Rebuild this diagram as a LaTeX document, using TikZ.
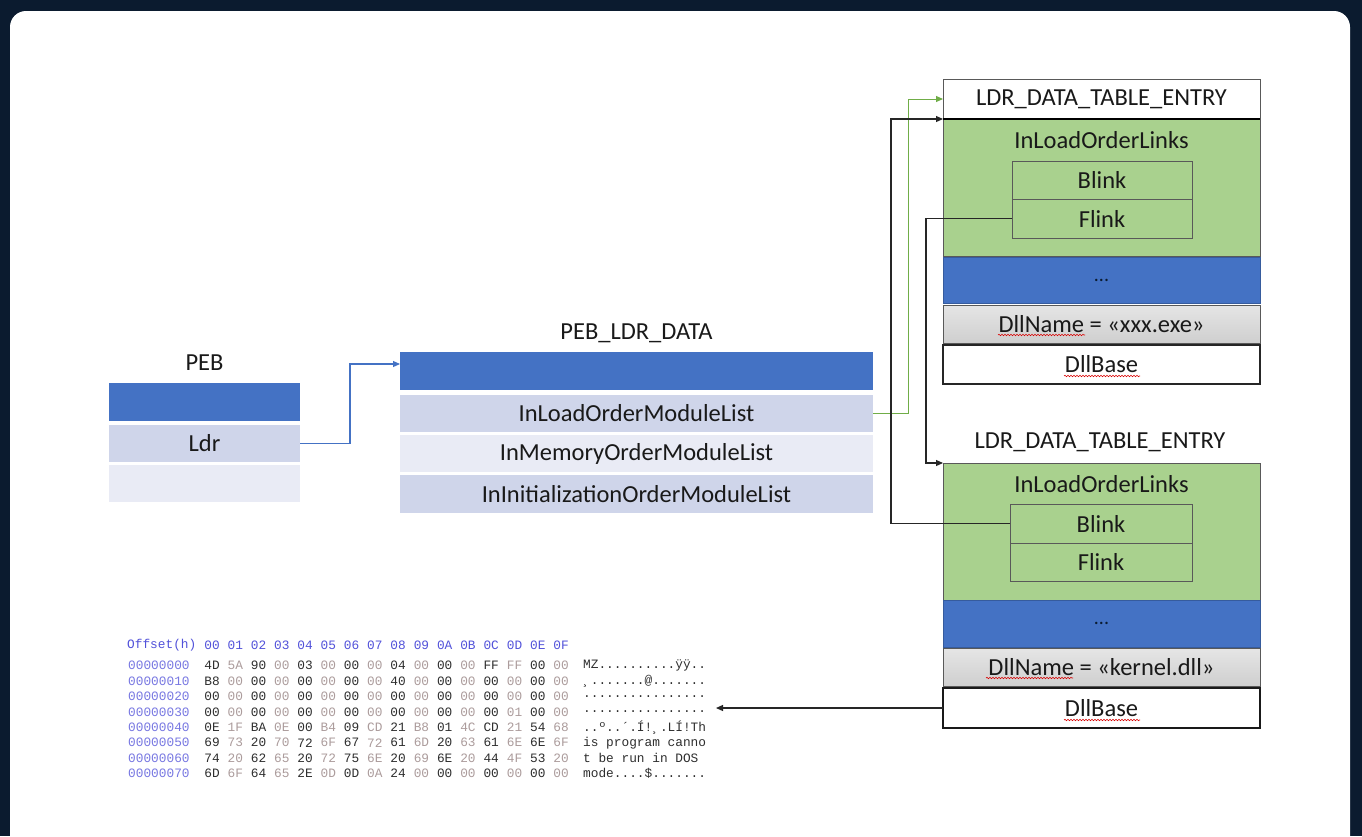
\documentclass[tikz,border=0pt]{standalone}
\usepackage{fontspec}
\setmainfont{Carlito}
\setmonofont{Liberation Mono}
\usetikzlibrary{arrows.meta,calc,decorations.pathmorphing}
\definecolor{navy}{HTML}{0B1B2F}
\definecolor{oblue}{HTML}{4472C4}
\definecolor{lav}{HTML}{CFD5EA}
\definecolor{lavlight}{HTML}{E9EBF5}
\definecolor{ogreen}{HTML}{A9D18E}
\definecolor{agreen}{HTML}{70AD47}
\definecolor{hexhead}{HTML}{5252DA}
\definecolor{hexoff}{HTML}{7878E2}
\definecolor{hexdark}{HTML}{2E2E2E}
\definecolor{hexlight}{HTML}{AC9C9C}
\definecolor{edge}{HTML}{595959}
\tikzset{
  cell/.style={inner sep=0pt, outer sep=0pt, text=black!90, font=\fontsize{24.5}{28}\selectfont},
  title/.style={inner sep=0pt, text=black!90, font=\fontsize{24.5}{28}\selectfont},
  conn/.style={line width=1.1pt, draw=black!85, -{Triangle[length=7pt,width=6pt]}},
  hexfont/.style={inner sep=0pt, font=\ttfamily\fontsize{12.8}{14}\selectfont},
  squig/.style={draw=red!85!black, line width=0.6pt, decorate, decoration={snake, amplitude=0.7pt, segment length=3pt}}
}
\begin{document}
\begin{tikzpicture}[x=1pt,y=-1pt]
\useasboundingbox (0,0) rectangle (1362,836);
\fill[navy] (0,0) rectangle (1362,836);
\fill[white, rounded corners=16pt] (10,11) rectangle (1350,880);

% PEB
\node[title] (pebl) at (204.5,363) {PEB};
\node[cell, fill=oblue, minimum width=191pt, minimum height=38pt] (peb0) at (204.5,402) {};
\node[cell, fill=lav, minimum width=191pt, minimum height=37pt] (peb1) at (204.5,443.5) {Ldr};
\node[cell, fill=lavlight, minimum width=191pt, minimum height=37pt] (peb2) at (204.5,483.5) {};

% PEB_LDR_DATA
\node[title] (ldrl) at (636.5,333) {PEB\_LDR\_DATA};
\node[cell, fill=oblue, minimum width=473pt, minimum height=38pt] (ldr0) at (636.5,371) {};
\node[cell, fill=lav, minimum width=473pt, minimum height=37pt] (ldr1) at (636.5,413.5) {InLoadOrderModuleList};
\node[cell, fill=lavlight, minimum width=473pt, minimum height=37pt] (ldr2) at (636.5,453.5) {InMemoryOrderModuleList};
\node[cell, fill=lav, minimum width=473pt, minimum height=38pt] (ldr3) at (636.5,494) {InInitializationOrderModuleList};

% Entry 1
\node[cell, fill=white, draw=edge, line width=0.8pt, minimum width=317pt, minimum height=40pt] (e1h) at (1101.5,99) {LDR\_DATA\_TABLE\_ENTRY};
\node[cell, fill=ogreen, draw=edge, line width=0.8pt, minimum width=317pt, minimum height=137pt] (e1g) at (1101.5,187.5) {};
\draw[black, line width=1.6pt] (e1g.north west) -- (e1g.north east);
\node[title] (e1links) at (1101.5,140) {InLoadOrderLinks};
\node[cell, draw=edge, line width=0.9pt, minimum width=180pt, minimum height=38pt] (e1b) at (1102,180) {Blink};
\node[cell, draw=edge, line width=0.9pt, minimum width=180pt, minimum height=39pt] (e1f) at (1102,218.5) {Flink};
\node[cell, fill=oblue, draw=oblue!80!black, line width=0.6pt, minimum width=317pt, minimum height=46pt, text=navy] (e1d) at (1101.5,280) {\fontsize{20}{22}\selectfont ...};
\node[cell, top color=gray!20, bottom color=gray!38, draw=edge, line width=0.8pt, minimum width=317pt, minimum height=38pt] (e1n) at (1101.5,324) {DllName = «xxx.exe»};
\node[cell, fill=white, draw=black!85, line width=1.2pt, minimum width=317pt, minimum height=39pt] (e1base) at (1101.5,364.5) {DllBase};

% Entry 2
\node[title] (e2l) at (1100,442) {LDR\_DATA\_TABLE\_ENTRY};
\node[cell, fill=ogreen, draw=edge, line width=0.8pt, minimum width=317pt, minimum height=137pt] (e2g) at (1101.5,531.5) {};
\node[title] (e2links) at (1101.5,484) {InLoadOrderLinks};
\node[cell, draw=edge, line width=0.9pt, minimum width=182pt, minimum height=39pt] (e2b) at (1101,523.5) {Blink};
\node[cell, draw=edge, line width=0.9pt, minimum width=182pt, minimum height=38pt] (e2f) at (1101,562) {Flink};
\node[cell, fill=oblue, draw=oblue!80!black, line width=0.6pt, minimum width=317pt, minimum height=47pt, text=navy] (e2d) at (1101.5,623.5) {\fontsize{20}{22}\selectfont ...};
\node[cell, top color=gray!20, bottom color=gray!38, draw=edge, line width=0.8pt, minimum width=317pt, minimum height=38pt] (e2n) at (1101.5,667) {DllName = «kernel.dll»};
\node[cell, fill=white, draw=black!90, line width=1.4pt, minimum width=317pt, minimum height=40pt] (e2base) at (1101.5,708) {DllBase};

% spell-check squiggles
\draw[squig] (998,335) -- (1085,335);
\draw[squig] (1064,376) -- (1140,376);
\draw[squig] (986,678) -- (1073,678);
\draw[squig] (1064,720) -- (1140,720);

% connectors
\draw[line width=1.1pt, draw=oblue, -{Triangle[length=7pt,width=6pt]}] (peb1.east) -- ++(50,0) |- ([yshift=7pt]ldr0.west);
\draw[line width=1pt, draw=agreen, -{Triangle[length=7pt,width=6pt]}] (ldr1.east) -- ++(35,0) |- (e1h.west);
\draw[conn] (e2b.west) -- ++(-119,0) |- (e1g.north west);
\draw[conn] (e1f.west) -- ++(-86,0) |- (e2g.north west);
\coordinate (hexend) at (716,708);
\draw[conn] (e2base.west) -- (hexend);

% hex dump
\node[hexfont, anchor=west, text=hexhead] (hexhdr) at (127,645) {Offset(h)};
\foreach \h [count=\c from 0] in {00,01,02,03,04,05,06,07,08,09,0A,0B,0C,0D,0E,0F}
  \node[hexfont, text=hexhead] (hh\c) at ({212+23.27*\c},645) {\h};
\foreach \bytes [count=\r from 0] in {
  {4D,5A,90,00,03,00,00,00,04,00,00,00,FF,FF,00,00},
  {B8,00,00,00,00,00,00,00,40,00,00,00,00,00,00,00},
  {00,00,00,00,00,00,00,00,00,00,00,00,00,00,00,00},
  {00,00,00,00,00,00,00,00,00,00,00,00,00,01,00,00},
  {0E,1F,BA,0E,00,B4,09,CD,21,B8,01,4C,CD,21,54,68},
  {69,73,20,70,72,6F,67,72,61,6D,20,63,61,6E,6E,6F},
  {74,20,62,65,20,72,75,6E,20,69,6E,20,44,4F,53,20},
  {6D,6F,64,65,2E,0D,0D,0A,24,00,00,00,00,00,00,00}}{
  \node[hexfont, anchor=west, text=hexoff] (off\r) at (128,{665.5+15.45*\r}) {000000\r0};
  \foreach \b [count=\c from 0] in \bytes {
    \ifodd\c\relax\def\hc{hexlight}\else\def\hc{hexdark}\fi
    \node[hexfont, text=\hc] (hx\r-\c) at ({212+23.27*\c},{665.5+15.45*\r}) {\b};
  }
}
\node[hexfont, anchor=west, text=hexdark] (asc0) at (583,665.5) {MZ..........ÿÿ..};
\node[hexfont, anchor=west, text=hexdark] (asc1) at (583,680.95) {¸.......@.......};
\node[hexfont, anchor=west, text=hexdark] (asc2) at (583,696.4) {................};
\node[hexfont, anchor=west, text=hexdark] (asc3) at (583,711.85) {................};
\node[hexfont, anchor=west, text=hexdark] (asc4) at (583,727.3) {..º..´.Í!¸.LÍ!Th};
\node[hexfont, anchor=west, text=hexdark] (asc5) at (583,742.75) {is program canno};
\node[hexfont, anchor=west, text=hexdark] (asc6) at (583,758.2) {t be run in DOS};
\node[hexfont, anchor=west, text=hexdark] (asc7) at (583,773.65) {mode....\$.......};
\end{tikzpicture}
\end{document}
